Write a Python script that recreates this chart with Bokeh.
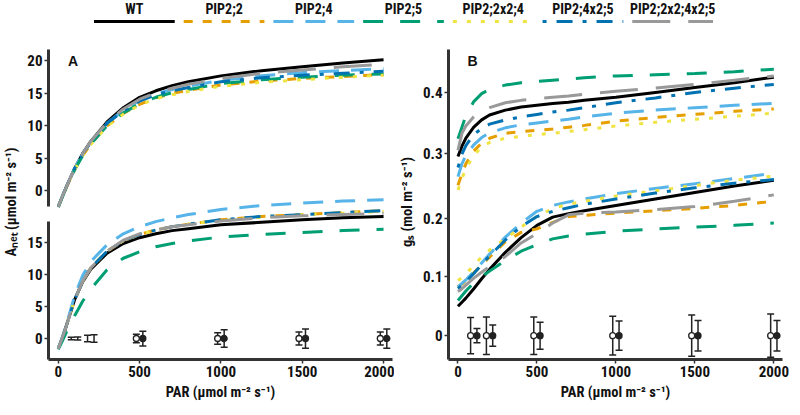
from bokeh.plotting import figure
from bokeh.models import Range1d, FixedTicker, Whisker, TeeHead, ColumnDataSource, Label, FactorRange
from bokeh.layouts import column, row
from bokeh.transform import dodge
from bokeh.core.properties import value
from bokeh.embed import file_html
from bokeh.resources import INLINE

# ---------------- data ----------------
PAR = [0, 25, 50, 100, 150, 200, 300, 400, 500, 600, 700, 800, 1000, 1250, 1500, 1750, 2000]
SERIES = ["WT", "PIP2;2", "PIP2;4", "PIP2;5", "PIP2;2x2;4", "PIP2;4x2;5", "PIP2;2x2;4x2;5"]
COLORS = ["#000000", "#E69F00", "#56B4E9", "#009E73", "#F0E442", "#0072B2", "#999999"]
DASHES = ["solid", "9 10", "20 12", "20 17", "4 10", "4 10 16 10", "38 18"]

A_up_WT   = [-2.5, -0.9, 0.6, 3.4, 5.7, 7.6, 10.6, 12.8, 14.4, 15.4, 16.2, 16.8, 17.7, 18.5, 19.1, 19.7, 20.2]
A_up_22   = [-2.5, -1.0, 0.5, 3.2, 5.4, 7.2, 10.0, 11.9, 13.3, 14.3, 15.0, 15.5, 16.3, 16.9, 17.3, 17.6, 17.9]
A_up_24   = [-2.5, -0.9, 0.6, 3.4, 5.7, 7.5, 10.4, 12.4, 13.9, 14.9, 15.6, 16.1, 17.0, 17.7, 18.2, 18.5, 18.8]
A_up_25   = [-2.5, -1.0, 0.5, 3.2, 5.4, 7.2, 10.0, 12.0, 13.4, 14.4, 15.1, 15.6, 16.5, 17.1, 17.5, 17.8, 18.0]
A_up_224  = [-2.5, -1.0, 0.5, 3.2, 5.4, 7.1, 9.9, 11.8, 13.2, 14.2, 14.8, 15.3, 16.1, 16.7, 17.1, 17.5, 17.8]
A_up_425  = [-2.5, -0.9, 0.6, 3.4, 5.7, 7.5, 10.4, 12.3, 13.8, 14.8, 15.4, 15.9, 16.8, 17.4, 17.8, 18.1, 18.4]
A_up_2245 = [-2.5, -0.9, 0.6, 3.4, 5.7, 7.6, 10.5, 12.6, 14.1, 15.1, 15.8, 16.4, 17.3, 18.1, 18.6, 19.1, 19.5]

A_lo_WT   = [-1.6, 0.1, 2.0, 6.0, 8.8, 10.8, 13.3, 14.8, 15.7, 16.3, 16.8, 17.1, 17.7, 18.1, 18.5, 18.8, 19.0]
A_lo_22   = [-1.6, 0.1, 2.0, 6.0, 8.9, 11.0, 13.6, 15.2, 16.2, 16.9, 17.4, 17.8, 18.5, 19.0, 19.3, 19.6, 19.9]
A_lo_24   = [-1.6, 0.2, 2.2, 6.6, 9.8, 12.0, 14.6, 16.3, 17.4, 18.2, 18.8, 19.3, 20.1, 20.7, 21.1, 21.4, 21.6]
A_lo_25   = [-1.7, -0.4, 1.0, 3.5, 5.8, 7.7, 10.7, 12.5, 13.5, 14.3, 14.8, 15.2, 15.8, 16.2, 16.5, 16.8, 17.0]
A_lo_224  = [-1.6, 0.1, 2.0, 6.0, 8.9, 11.0, 13.6, 15.2, 16.2, 16.9, 17.4, 17.8, 18.4, 18.9, 19.3, 19.5, 19.8]
A_lo_425  = [-1.6, 0.1, 2.0, 6.0, 8.9, 11.0, 13.6, 15.2, 16.2, 16.9, 17.4, 17.8, 18.5, 19.0, 19.3, 19.6, 19.9]
A_lo_2245 = [-1.6, 0.1, 2.0, 6.0, 8.9, 11.0, 13.6, 15.3, 16.3, 16.9, 17.4, 17.7, 18.3, 18.8, 19.1, 19.3, 19.5]

B_up_WT   = [0.295, 0.312, 0.325, 0.343, 0.355, 0.363, 0.371, 0.376, 0.379, 0.382, 0.384, 0.387, 0.392, 0.400, 0.408, 0.416, 0.425]
B_up_22   = [0.248, 0.267, 0.283, 0.304, 0.317, 0.325, 0.333, 0.336, 0.338, 0.340, 0.343, 0.346, 0.353, 0.359, 0.364, 0.369, 0.373]
B_up_24   = [0.262, 0.283, 0.297, 0.314, 0.326, 0.334, 0.342, 0.347, 0.350, 0.353, 0.356, 0.360, 0.366, 0.371, 0.375, 0.379, 0.382]
B_up_25   = [0.324, 0.343, 0.362, 0.385, 0.398, 0.405, 0.412, 0.416, 0.418, 0.420, 0.422, 0.424, 0.427, 0.429, 0.431, 0.434, 0.438]
B_up_224  = [0.240, 0.259, 0.275, 0.297, 0.311, 0.318, 0.325, 0.328, 0.331, 0.333, 0.336, 0.339, 0.345, 0.351, 0.356, 0.361, 0.366]
B_up_425  = [0.277, 0.299, 0.313, 0.331, 0.341, 0.348, 0.355, 0.360, 0.364, 0.368, 0.371, 0.375, 0.383, 0.391, 0.400, 0.407, 0.413]
B_up_2245 = [0.305, 0.333, 0.345, 0.360, 0.369, 0.375, 0.383, 0.387, 0.390, 0.392, 0.394, 0.397, 0.402, 0.407, 0.413, 0.420, 0.427]

B_lo_WT   = [0.050, 0.057, 0.064, 0.080, 0.097, 0.113, 0.142, 0.167, 0.188, 0.202, 0.208, 0.213, 0.222, 0.233, 0.244, 0.255, 0.265]
B_lo_22   = [0.083, 0.088, 0.094, 0.107, 0.121, 0.134, 0.160, 0.176, 0.182, 0.193, 0.203, 0.205, 0.209, 0.213, 0.217, 0.222, 0.229]
B_lo_24   = [0.083, 0.089, 0.095, 0.109, 0.124, 0.139, 0.168, 0.192, 0.212, 0.222, 0.228, 0.233, 0.242, 0.251, 0.259, 0.268, 0.277]
B_lo_25   = [0.060, 0.068, 0.076, 0.090, 0.101, 0.110, 0.128, 0.144, 0.155, 0.165, 0.170, 0.173, 0.178, 0.182, 0.185, 0.188, 0.192]
B_lo_224  = [0.094, 0.099, 0.105, 0.120, 0.134, 0.146, 0.165, 0.185, 0.203, 0.217, 0.224, 0.229, 0.238, 0.247, 0.256, 0.265, 0.272]
B_lo_425  = [0.080, 0.086, 0.092, 0.106, 0.121, 0.136, 0.163, 0.186, 0.203, 0.212, 0.218, 0.224, 0.233, 0.243, 0.252, 0.260, 0.266]
B_lo_2245 = [0.075, 0.080, 0.086, 0.098, 0.108, 0.118, 0.135, 0.158, 0.174, 0.192, 0.206, 0.209, 0.211, 0.215, 0.220, 0.229, 0.240]

ERR_PAR = [100, 200, 500, 1000, 1500, 2000]
A_open_err = [0.2, 0.5, 0.65, 0.9, 1.0, 1.0]
A_fill_err = [0.25, 0.6, 1.15, 1.35, 1.5, 1.5]
B_open_err = [0.031, 0.032, 0.032, 0.033, 0.035, 0.037]
B_fill_err = [0.012, 0.018, 0.023, 0.025, 0.026, 0.026]
A_PT_PAR = [500, 1000, 1500, 2000]
A_PT_MEAN = [0, 0, 0, 0]
B_PT_PAR = [100, 200, 500, 1000, 1500, 2000]
B_PT_MEAN = [0, 0, 0, 0, 0, 0]

A_UP_TICKS = [0, 5, 10, 15, 20]
A_LO_TICKS = [0, 5, 10, 15]
B_UP_TICKS = [0.3, 0.4]
B_LO_TICKS = [0, 0.1, 0.2]
X_TICKS = [0, 500, 1000, 1500, 2000]

# ---------------- style / layout ----------------
FONT = "Roboto Condensed, Liberation Sans Narrow, Roboto, sans-serif"
AX = "#333333"
FH = 315           # frame height
TOPB = 8           # frame top border
AXTOP = 5          # axis top below frame top (px)
K = (FH - AXTOP) / (378.0 - 53.0)   # page px per reference px
REF_FRAME_TOP = 378.0 - FH / K


def vrange(r0, s):
    return (r0 - 378.0) / s, (r0 - REF_FRAME_TOP) / s


def make_panel(up, lo, up_cal, lo_cal, up_ticks, lo_ticks, fmt, gap, ylabel,
               letter, letter_y, open_err, fill_err, pt_par, pt_mean, left, fw, right):
    (r0u, su), (r0l, sl) = up_cal, lo_cal
    y0, y1 = vrange(r0l, sl)
    p = figure(x_range=Range1d(-60, 2055), y_range=Range1d(y0, y1),
               frame_width=fw, frame_height=FH, min_border_left=left, min_border_right=right,
               min_border_top=TOPB, min_border_bottom=44,
               toolbar_location=None, output_backend="svg")
    p.extra_y_ranges = {"up": Range1d(*vrange(r0u, su))}
    p.grid.visible = False
    p.outline_line_color = None

    src_up = ColumnDataSource({"par": PAR, **{n: v for n, v in zip(SERIES, up)}})
    src_lo = ColumnDataSource({"par": PAR, **{n: v for n, v in zip(SERIES, lo)}})
    for n, c, d in zip(SERIES, COLORS, DASHES):
        p.line("par", n, source=src_up, y_range_name="up", line_color=c, line_width=3, line_dash=d)
    for n, c, d in zip(SERIES, COLORS, DASHES):
        p.line("par", n, source=src_lo, line_color=c, line_width=3, line_dash=d)

    # error bars (lower panel, y = 0)
    for err, off in ((open_err, -20), (fill_err, 20)):
        es = ColumnDataSource(dict(par=ERR_PAR, lo=[-e for e in err], hi=err))
        p.add_layout(Whisker(base=dodge("par", off), lower="lo", upper="hi", source=es,
                             line_color="#222222", line_width=1.5,
                             upper_head=TeeHead(size=7, line_color="#222222", line_width=1.5),
                             lower_head=TeeHead(size=7, line_color="#222222", line_width=1.5)))
    ps = ColumnDataSource(dict(par=pt_par, m=pt_mean))
    p.scatter(dodge("par", -20), "m", source=ps, size=6, fill_color="white",
              line_color="#222222", line_width=1.3)
    p.scatter(dodge("par", 20), "m", source=ps, size=6, fill_color="#222222",
              line_color="#222222", line_width=1.3)

    # y axis: lower ticks in own units, upper ticks mapped onto them
    ticks, labels = [], {}
    for v in lo_ticks:
        t = round(float(v), 6)
        ticks.append(t); labels[t] = fmt(v)
    for v in up_ticks:
        t = round((r0l - r0u + v * su) / sl, 6)
        ticks.append(t); labels[t] = fmt(v)
    yax = p.yaxis[0]
    yax.ticker = FixedTicker(ticks=ticks)
    yax.major_label_overrides = labels
    yax.bounds = (y0, (r0l - 53.0) / sl)
    if gap:
        lo_len = int(round((378 - gap[0]) * K))
        gap_len = int(round((gap[0] - gap[1]) * K))
        yax.axis_line_dash = f"{lo_len} {gap_len} 600"
    yax.axis_label = ylabel

    xax = p.xaxis[0]
    xax.ticker = FixedTicker(ticks=X_TICKS)
    xax.axis_label = "PAR (\u03bcmol m\u207b\u00b2 s\u207b\u00b9)"

    for ax in (xax, yax):
        ax.axis_line_width = 3
        ax.axis_line_color = AX
        ax.major_tick_line_color = AX
        ax.major_tick_line_width = 1.5
        ax.major_tick_out = 4
        ax.major_tick_in = 0
        ax.minor_tick_line_color = None
        ax.major_label_text_font = FONT
        ax.major_label_text_font_style = "bold"
        ax.major_label_text_font_size = "15px"
        ax.major_label_text_color = "#111111"
        ax.major_label_standoff = 2
        ax.axis_label_text_font = FONT
        ax.axis_label_text_font_style = "bold"
        ax.axis_label_text_font_size = "14.5px"
        ax.axis_label_text_color = "#111111"
        ax.axis_label_standoff = 4

    p.add_layout(Label(x=60, y=letter_y, y_range_name="up", text=letter,
                       text_font="Liberation Sans", text_font_style="bold",
                       text_font_size="14px", text_baseline="middle", text_color="#111111"))
    return p


def fmt_int(v):
    return str(int(v))


def fmt_dec(v):
    return "0" if v == 0 else f"{v:.1f}"


pa = make_panel([A_up_WT, A_up_22, A_up_24, A_up_25, A_up_224, A_up_425, A_up_2245],
                [A_lo_WT, A_lo_22, A_lo_24, A_lo_25, A_lo_224, A_lo_425, A_lo_2245],
                (201.0, 6.8), (356.0, 6.733), A_UP_TICKS, A_LO_TICKS, fmt_int, (233, 217),
                "A\u2099\u2091\u209c (\u03bcmol m\u207b\u00b2 s\u207b\u00b9)", "A", 20,
                A_open_err, A_fill_err, A_PT_PAR, A_PT_MEAN, 42, 344, 2)
pb = make_panel([B_up_WT, B_up_22, B_up_24, B_up_25, B_up_224, B_up_425, B_up_2245],
                [B_lo_WT, B_lo_22, B_lo_24, B_lo_25, B_lo_224, B_lo_425, B_lo_2245],
                (354.0, 640.0), (353.0, 615.0), B_UP_TICKS, B_LO_TICKS, fmt_dec, None,
                "g\u209b (mol m\u207b\u00b2 s\u207b\u00b9)", "B", 0.452,
                B_open_err, B_fill_err, B_PT_PAR, B_PT_MEAN, 54, 334, 8)

# ---------------- legend ----------------
leg = figure(x_range=FactorRange(*SERIES, range_padding=0), y_range=Range1d(0, 36),
             frame_width=628, frame_height=36, min_border_left=89, min_border_right=67,
             min_border_top=0, min_border_bottom=0, x_axis_location=None, y_axis_location=None,
             toolbar_location=None, output_backend="svg")
leg.grid.visible = False
leg.outline_line_color = None
for n, c, d in zip(SERIES, COLORS, DASHES):
    s = ColumnDataSource(dict(name=[n]))
    leg.segment(x0=dodge("name", -0.45, range=leg.x_range), y0=15,
                x1=dodge("name", 0.45, range=leg.x_range), y1=15, source=s,
                line_color=c, line_width=3, line_dash=d)
    leg.text(x="name", y=28, text="name", source=s, text_align="center", text_baseline="middle",
             text_font=value(FONT), text_font_style="bold", text_font_size="14px",
             text_color="#111111")

layout = column(leg, row(pa, pb))
open("out.html", "w").write(file_html(layout, INLINE))
